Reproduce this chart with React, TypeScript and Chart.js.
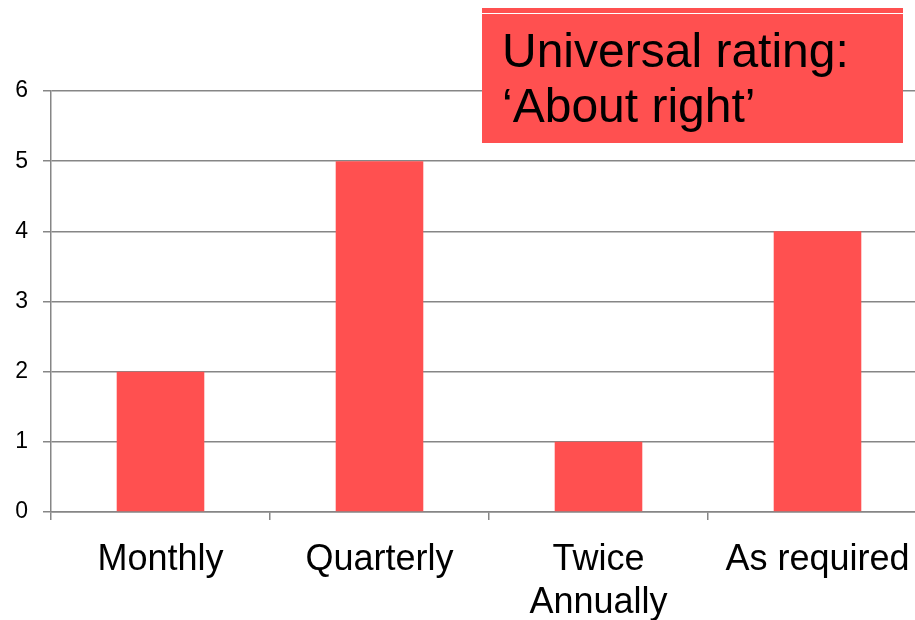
import React, { useEffect, useRef } from "react";
import { Chart, registerables } from "chart.js";

Chart.register(...registerables);

const categories: (string | string[])[] = ["Monthly", "Quarterly", ["Twice", "Annually"], "As required"];
const counts: number[] = [2, 5, 1, 4];
const yTicks: number[] = [0, 1, 2, 3, 4, 5, 6];
const noteLines: string[] = ["Universal rating:", "\u2018About right\u2019"];

const RED = "#FF5050";
const GREY = "#868686";
const ARIAL = "'Liberation Sans', Arial, sans-serif";

const notePlugin = {
  id: "note",
  afterDraw(chart: any) {
    const ctx = chart.ctx;
    ctx.save();
    ctx.fillStyle = RED;
    ctx.fillRect(482, 8, 421, 135);
    ctx.strokeStyle = "#ffffff";
    ctx.lineWidth = 1;
    ctx.beginPath();
    ctx.moveTo(482, 13.5);
    ctx.lineTo(903, 13.5);
    ctx.stroke();
    ctx.fillStyle = "#000000";
    ctx.font = "48px " + ARIAL;
    ctx.textBaseline = "alphabetic";
    ctx.textAlign = "left";
    ctx.fillText(noteLines[0], 502, 67);
    ctx.fillText(noteLines[1], 502, 122);
    ctx.restore();
  },
};

export default function App() {
  const ref = useRef<HTMLCanvasElement | null>(null);
  useEffect(() => {
    if (!ref.current) return;
    const chart = new Chart(ref.current, {
      type: "bar",
      data: {
        labels: categories,
        datasets: [
          {
            data: counts,
            backgroundColor: RED,
            borderWidth: 0,
            barPercentage: 0.4,
            categoryPercentage: 1,
          },
        ],
      },
      options: {
        responsive: false,
        animation: false,
        maintainAspectRatio: false,
        layout: { padding: { top: 91, left: 0, right: 8, bottom: 0 } },
        plugins: { legend: { display: false }, tooltip: { enabled: false } },
        scales: {
          x: {
            afterFit(scale: any) {
              scale.height = 108;
            },
            grid: {
              offset: true,
              drawOnChartArea: false,
              color: GREY,
              lineWidth: 1.5,
              tickLength: 8,
            },
            border: { color: GREY, width: 1.5 },
            ticks: {
              color: "#000",
              padding: 18,
              font: { family: ARIAL, size: 36, lineHeight: 1.2 },
              maxRotation: 0,
              autoSkip: false,
            },
          },
          y: {
            min: 0,
            max: 6,
            afterFit(scale: any) {
              scale.width = 51;
            },
            afterBuildTicks(scale: any) {
              scale.ticks = yTicks.map((v) => ({ value: v }));
            },
            grid: { color: GREY, lineWidth: 1.5, tickLength: 8 },
            border: { color: GREY, width: 1.5 },
            ticks: {
              color: "#000",
              padding: 15,
              font: { family: ARIAL, size: 23 },
            },
          },
        },
      },
      plugins: [notePlugin],
    });
    return () => chart.destroy();
  }, []);
  return (
    <div style={{ position: "fixed", left: 0, top: 0, width: 915, height: 620, overflow: "hidden", background: "#fff" }}>
      <canvas ref={ref} width={935} height={620} style={{ display: "block", width: 935, height: 620 }} />
    </div>
  );
}
